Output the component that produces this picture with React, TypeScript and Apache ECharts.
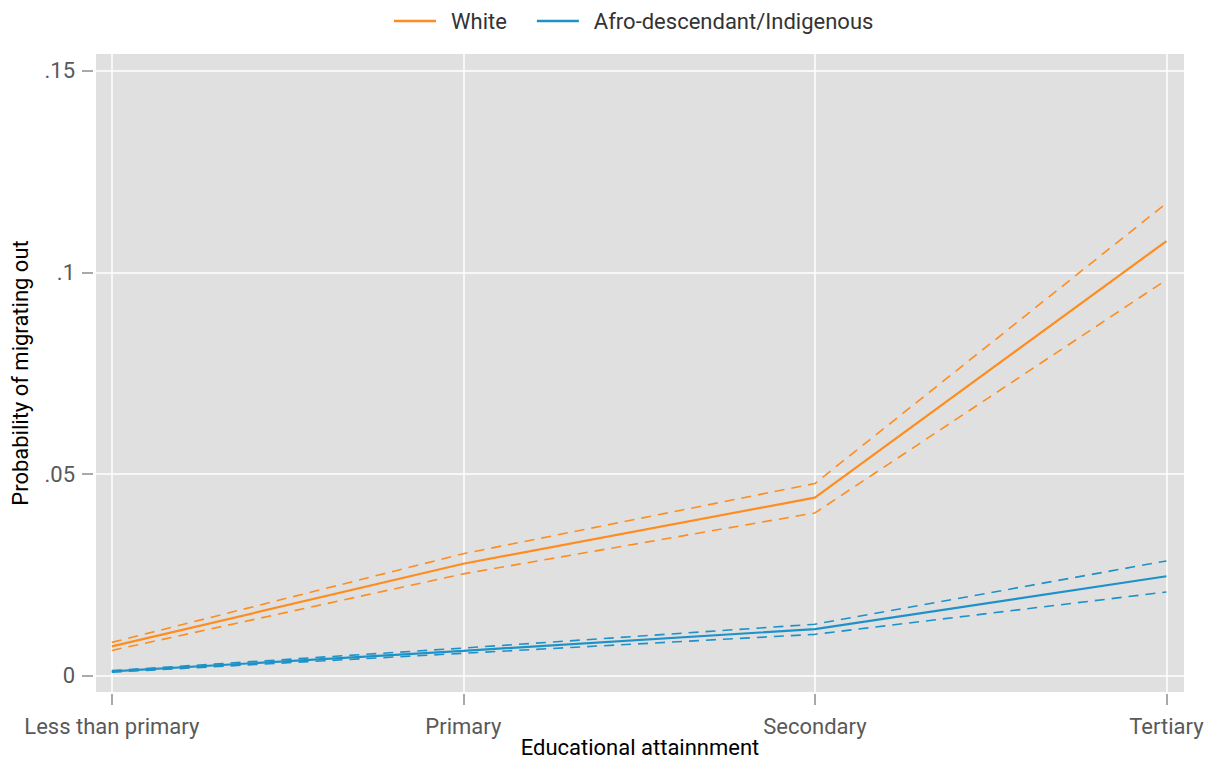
import React, { useEffect, useRef } from "react";
import * as echarts from "echarts";

// Education levels on the x axis
const categories = ["Less than primary", "Primary", "Secondary", "Tertiary"];

// Predicted probabilities with confidence bounds
const whiteMean = [0.0073, 0.0278, 0.0442, 0.1078];
const whiteUpper = [0.0083, 0.0303, 0.0477, 0.1172];
const whiteLower = [0.0063, 0.0253, 0.0404, 0.0982];

const afroMean = [0.0011, 0.0062, 0.0116, 0.0247];
const afroUpper = [0.0013, 0.0069, 0.0128, 0.0285];
const afroLower = [0.0009, 0.0056, 0.0103, 0.0208];

const yTicks = [0, 0.05, 0.1, 0.15];
const yTickLabels = ["0", ".05", ".1", ".15"];

const ORANGE = "#ff8c1e";
const BLUE = "#1e92c8";
const FONT = "Roboto, 'Liberation Sans', Arial, sans-serif";

const toPoints = (vals: number[]) => vals.map((v, i) => [i, v]);

export default function App() {
  const ref = useRef<HTMLDivElement>(null);

  useEffect(() => {
    document.body.style.margin = "0";
    if (!ref.current) return;
    const chart = echarts.init(ref.current, undefined, { renderer: "svg" });

    const solid = (name: string, color: string, vals: number[]) => ({
      name,
      type: "line",
      data: toPoints(vals),
      symbol: "none",
      z: 5,
      lineStyle: { color, width: 2.2, type: "solid" },
      itemStyle: { color },
    });
    const dashed = (name: string, color: string, vals: number[]) => ({
      name,
      type: "line",
      data: toPoints(vals),
      symbol: "none",
      z: 4,
      lineStyle: { color, width: 1.6, type: [10, 7] },
      itemStyle: { color },
    });

    chart.setOption({
      animation: false,
      backgroundColor: "#ffffff",
      textStyle: { fontFamily: FONT },
      legend: {
        data: ["White", "Afro-descendant/Indigenous"],
        top: 5,
        left: 389,
        icon: "rect",
        itemWidth: 42,
        itemHeight: 2.5,
        itemGap: 30,
        textStyle: {
          fontFamily: FONT,
          fontSize: 22,
          color: "#333333",
          padding: [0, 0, 0, 10],
        },
      },
      grid: {
        left: 96,
        right: 26,
        top: 54,
        bottom: 67,
        outerBoundsMode: "none",
        containLabel: false,
        show: true,
        backgroundColor: "#e0e0e0",
        borderWidth: 0,
      },
      xAxis: {
        type: "value",
        min: -0.045,
        max: 3.05,
        offset: 2,
        name: "Educational attainnment",
        nameLocation: "middle",
        nameGap: 42,
        nameMoveOverlap: false,
        nameTextStyle: { fontFamily: FONT, fontSize: 22, color: "#000000" },
        axisLine: { show: false, onZero: false },
        axisTick: {
          show: true,
          inside: false,
          length: 11,
          customValues: [0, 1, 2, 3],
          lineStyle: { color: "#8c8c8c", width: 1.5 },
        },
        axisLabel: {
          customValues: [0, 1, 2, 3],
          margin: 21,
          fontFamily: FONT,
          fontSize: 22,
          color: "#595959",
          formatter: (v: number) => categories[Math.round(v)] ?? "",
        },
        splitLine: { show: true, lineStyle: { color: "#ffffff", width: 1.5 } },
      },
      yAxis: {
        type: "value",
        min: -0.004,
        max: 0.1542,
        offset: 3,
        name: "Probability of migrating out",
        nameLocation: "middle",
        nameGap: 62,
        nameMoveOverlap: false,
        nameTextStyle: { fontFamily: FONT, fontSize: 22, color: "#000000" },
        axisLine: { show: false, onZero: false },
        axisTick: {
          show: true,
          inside: false,
          length: 11,
          customValues: yTicks,
          lineStyle: { color: "#8c8c8c", width: 1.5 },
        },
        axisLabel: {
          customValues: yTicks,
          margin: 18,
          fontFamily: FONT,
          fontSize: 22,
          color: "#595959",
          formatter: (v: number) => {
            let best = 0;
            yTicks.forEach((t, i) => {
              if (Math.abs(t - v) < Math.abs(yTicks[best] - v)) best = i;
            });
            return yTickLabels[best];
          },
        },
        splitLine: { show: true, lineStyle: { color: "#ffffff", width: 1.5 } },
      },
      series: [
        dashed("White upper", ORANGE, whiteUpper),
        dashed("White lower", ORANGE, whiteLower),
        dashed("Afro upper", BLUE, afroUpper),
        dashed("Afro lower", BLUE, afroLower),
        solid("White", ORANGE, whiteMean),
        solid("Afro-descendant/Indigenous", BLUE, afroMean),
      ],
    });

    return () => chart.dispose();
  }, []);

  return <div ref={ref} style={{ width: 1210, height: 759 }} />;
}
